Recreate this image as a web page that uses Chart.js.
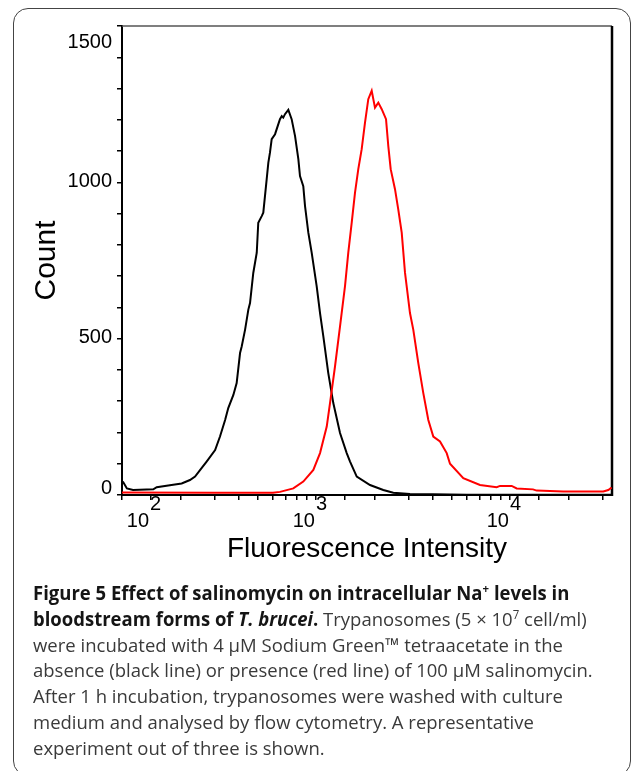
<!DOCTYPE html>
<html>
<head>
<meta charset="utf-8">
<script src="https://cdn.jsdelivr.net/npm/chart.js@4.4.1/dist/chart.umd.min.js"></script>
<style>
  html, body { margin: 0; padding: 0; background: #fff; }
  body { width: 633px; height: 771px; position: relative; overflow: hidden; }
  #frame { position: absolute; left: 13px; top: 8px; width: 618px; height: 768px; border: 1.5px solid #444; border-radius: 15px; box-sizing: border-box; }
  #chartBox { position: absolute; left: 0; top: 0; width: 633px; height: 600px; }
  #caption { position: absolute; left: 33px; top: 581px; font-family: "Open Sans", sans-serif; font-size: 19px; line-height: 25.8px; color: #3a3a3a; white-space: nowrap; transform-origin: 0 0; }
  #caption b { color: #151515; }
  #caption sup { font-size: 0.62em; line-height: 0; vertical-align: 0.6em; }
</style>
</head>
<body>
<div id="frame"></div>
<div id="chartBox"><canvas id="histo"></canvas></div>
<div id="caption"><b>Figure 5 Effect of salinomycin on intracellular Na<sup>+</sup> levels in</b><br><b>bloodstream forms of <i>T. brucei</i>.</b> Trypanosomes (5 × 10<sup>7</sup> cell/ml)<br>were incubated with 4 µM Sodium Green™ tetraacetate in the<br>absence (black line) or presence (red line) of 100 µM salinomycin.<br>After 1 h incubation, trypanosomes were washed with culture<br>medium and analysed by flow cytometry. A representative<br>experiment out of three is shown.</div>
<script>
// fluorescence intensity / event counts
const controlIntensity = [101, 106, 114, 145, 151, 180, 203, 224, 238, 253, 273, 302, 320, 340, 353, 375, 390, 406, 414, 431,
  448, 457, 475, 495, 504, 525, 535, 557, 568, 579, 591, 615, 652, 666, 678, 692, 720, 749, 780, 811,
  827, 860, 878, 913, 950, 1008, 1049, 1091, 1157, 1228, 1330, 1440, 1498, 1622, 1899, 2223, 2503, 3051, 4000, 6000,
  10000, 20000, 33560];
const controlCount = [43, 21, 16, 18, 25, 32, 37, 48, 59, 80, 107, 144, 187, 240, 278, 320, 358, 454, 475, 529,
  593, 614, 710, 775, 871, 892, 903, 1010, 1063, 1095, 1138, 1154, 1202, 1212, 1207, 1218, 1232, 1202, 1148, 1074,
  1020, 988, 924, 839, 775, 668, 582, 507, 390, 294, 198, 134, 107, 59, 32, 16, 7, 3, 2, 1,
  1, 1, 1];

const salinoIntensity = [100, 300, 600, 652, 764, 860, 969, 1049, 1136, 1181, 1253, 1330, 1411, 1467, 1528, 1589, 1652, 1720, 1789, 1860,
  1937, 2014, 2095, 2182, 2296, 2359, 2427, 2554, 2656, 2766, 2876, 3051, 3173, 3368, 3574, 3793, 4024, 4357, 4718, 4907,
  5745, 7004, 8540, 8883, 10205, 10828, 13140, 13728, 18823, 30267, 32117, 33400];
const salinoCount = [8, 7, 7, 10, 21, 43, 80, 134, 219, 294, 411, 539, 668, 775, 871, 967, 1042, 1106, 1191, 1266,
  1293, 1239, 1255, 1234, 1202, 1116, 1042, 978, 913, 839, 711, 582, 529, 422, 326, 240, 187, 171, 134, 100,
  54, 32, 25, 29, 29, 21, 18, 14, 11, 11, 16, 24];

const xMin = 100, xMax = 33560;
const yMax = 1500, yStep = 100;
const yTickLabels = [0, 500, 1000, 1500];
const xDecades = [100, 1000, 10000];
const xTickFactors = [1, 1.4, 2, 3, 4, 5, 6, 7, 8, 9];
const xTickLabelExps = [2, 3, 4];

const xTickValues = [];
xDecades.forEach(d => xTickFactors.forEach(f => { if (d * f <= xMax) xTickValues.push(d * f); }));

const toPoints = (xs, ys) => xs.map((x, i) => ({ x: x, y: ys[i] }));
const tickFont = '20px "Liberation Sans", Arial, sans-serif';

const boxAndLabels = {
  id: 'boxAndLabels',
  beforeDatasetsDraw(chart) {
    const { ctx, chartArea: a } = chart;
    ctx.save();
    ctx.strokeStyle = '#555';
    ctx.lineWidth = 1.5;
    ctx.beginPath(); ctx.moveTo(a.left, a.top); ctx.lineTo(a.right, a.top); ctx.stroke();
    ctx.strokeStyle = '#000';
    ctx.lineWidth = 2.5;
    ctx.beginPath(); ctx.moveTo(a.right, a.top); ctx.lineTo(a.right, a.bottom + 1); ctx.stroke();
    ctx.restore();
  },
  afterDraw(chart) {
    const { ctx, chartArea: a } = chart;
    const xs = chart.scales.x, ys = chart.scales.y;
    ctx.save();
    ctx.font = tickFont;
    ctx.fillStyle = '#000';
    // y labels, the end ones pulled inwards like the original
    ctx.textAlign = 'right';
    ctx.textBaseline = 'middle';
    yTickLabels.forEach(v => {
      let y = ys.getPixelForValue(v);
      if (v === yMax) y += 16;
      else if (v === 0) y -= 7;
      else y -= 1;
      ctx.fillText(String(v), a.left - 10, y);
    });
    // x labels: 10 with raised exponent
    ctx.textBaseline = 'alphabetic';
    xTickLabelExps.forEach(e => {
      let x = xs.getPixelForValue(Math.pow(10, e));
      if (x < a.left + 5) x += 28;
      ctx.textAlign = 'right';
      ctx.fillText('10', x - 1, a.bottom + 32);
      ctx.textAlign = 'left';
      ctx.fillText(String(e), x, a.bottom + 15);
    });
    ctx.restore();
  }
};

new Chart(document.getElementById('histo'), {
  type: 'line',
  data: {
    datasets: [
      { label: 'salinomycin', data: toPoints(salinoIntensity, salinoCount), borderColor: '#ff0000' },
      { label: 'control', data: toPoints(controlIntensity, controlCount), borderColor: '#000000' }
    ]
  },
  options: {
    responsive: true,
    maintainAspectRatio: false,
    animation: false,
    devicePixelRatio: 1,
    layout: { padding: { left: 0, top: 26, right: 21, bottom: 0 } },
    plugins: { legend: { display: false }, tooltip: { enabled: false } },
    elements: {
      point: { radius: 0 },
      line: { borderWidth: 2, tension: 0, fill: false }
    },
    scales: {
      x: {
        type: 'logarithmic',
        min: xMin,
        max: xMax,
        afterBuildTicks: s => { s.ticks = xTickValues.map(v => ({ value: v })); },
        afterFit: s => { s.height = 105; },
        ticks: { display: false },
        grid: { drawOnChartArea: false, drawTicks: true, tickLength: 5, color: '#000', lineWidth: 1.5 },
        border: { display: true, color: '#000', width: 2 },
        title: {
          display: true, text: 'Fluorescence Intensity', color: '#000',
          font: { family: '"Liberation Sans", Arial, sans-serif', size: 28 },
          padding: { top: 0, bottom: 34 }
        }
      },
      y: {
        min: 0,
        max: yMax,
        afterFit: s => { s.width = 122; },
        ticks: { display: false, stepSize: yStep },
        grid: { drawOnChartArea: false, drawTicks: true, tickLength: 5, color: '#000', lineWidth: 1.5 },
        border: { display: true, color: '#000', width: 2 },
        title: {
          display: true, text: 'Count', color: '#000',
          font: { family: '"Liberation Sans", Arial, sans-serif', size: 30 },
          padding: { top: 29, bottom: 0 }
        }
      }
    }
  },
  plugins: [boxAndLabels]
});

// caption font is narrower than Open Sans: squeeze it to the original line length
function fitCaption() {
  const cap = document.getElementById('caption');
  cap.style.transform = 'none';
  const k = 560 / cap.scrollWidth;
  cap.style.transform = 'scaleX(' + k.toFixed(3) + ')';
}
fitCaption();
document.fonts.ready.then(fitCaption);
</script>
</body>
</html>
